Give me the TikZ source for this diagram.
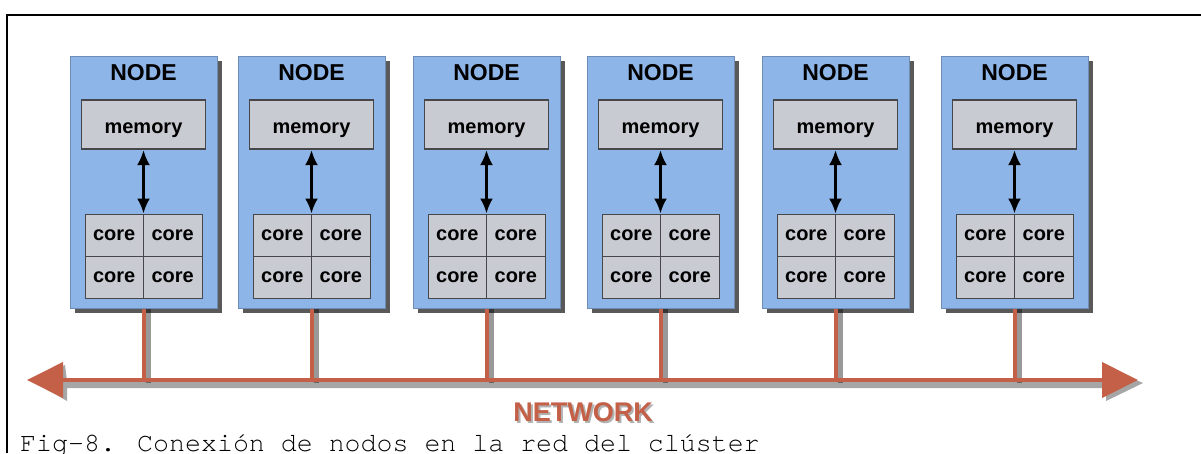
\documentclass[tikz,border=0pt]{standalone}
\usepackage{fontspec}
\setmainfont{Liberation Sans}
\newfontfamily\capfont{TeX Gyre Cursor}
\usetikzlibrary{arrows.meta,shadows,calc}
\definecolor{nodeblue}{RGB}{141,181,232}
\definecolor{nodeedge}{RGB}{110,140,180}
\definecolor{memgray}{RGB}{200,203,210}
\definecolor{memedge}{RGB}{70,70,75}
\definecolor{netred}{RGB}{196,96,72}
\tikzset{
  nodebox/.style={draw=nodeedge, line width=1pt, fill=nodeblue, minimum width=147pt, minimum height=252pt, inner sep=0pt,
    drop shadow={shadow xshift=5pt, shadow yshift=-5pt, opacity=0.65, fill=black}},
  titletext/.style={font=\fontsize{23}{26}\selectfont\bfseries, text=black, inner sep=0pt},
  membox/.style={draw=memedge, line width=1.2pt, fill=memgray, minimum width=124pt, minimum height=49pt, inner sep=0pt},
  memtext/.style={font=\fontsize{20}{24}\selectfont\bfseries, inner sep=0pt, anchor=base},
  corebox/.style={draw=memedge, line width=1pt, fill=memgray, minimum width=58.5pt, minimum height=42pt, inner sep=0pt,
    font=\fontsize{20}{24}\selectfont\bfseries},
  busarrow/.style={{Latex[length=15pt,width=13pt]}-{Latex[length=15pt,width=13pt]}, line width=2.6pt, black, shorten <=0.5pt, shorten >=0.5pt},
  netline/.style={line width=4pt, netred},
  netshadow/.style={line width=5pt, black, opacity=0.4},
}
\begin{document}
\begin{tikzpicture}[x=1pt, y=-1pt]
\useasboundingbox (0,0) rectangle (1201,453);
\fill[white] (0,0) rectangle (1201,453);
% frame
\draw[line width=2.5pt, black] (7,453) -- (7,15) -- (1201,15);

% network line coordinates
\coordinate (L) at (27,380);
\coordinate (R) at (1138,380);

\foreach \i/\x in {1/143.5, 2/311.5, 3/486.5, 4/660.5, 5/835.5, 6/1014.5} {
  % stem shadow
  \draw[netshadow] (\x+4.5,308) -- (\x+4.5,383);
}
% network shadow
\fill[black, opacity=0.35] (31,380) -- (65,365) -- (67,381) -- (1105,381) -- (1105,366) -- (1143,383) -- (1106,401) -- (1106,388) -- (67,388) -- (67,401) -- cycle;

\foreach \i/\x in {1/143.5, 2/311.5, 3/486.5, 4/660.5, 5/835.5, 6/1014.5} {
  \node[nodebox] (n\i) at (\x,182) {};
  \node[titletext] (t\i) at (\x,73) {NODE};
  \node[membox] (m\i) at (\x,124.5) {};
  \node[memtext] (mt\i) at (\x,133) {memory};
  \node[corebox] (ca\i) at (\x-29.25,235) {core};
  \node[corebox] (cb\i) at (\x+29.25,235) {core};
  \node[corebox] (cc\i) at (\x-29.25,277) {core};
  \node[corebox] (cd\i) at (\x+29.25,277) {core};
  \coordinate (g\i) at (\x,214);
  \draw[busarrow] (m\i.south) -- (g\i);
  \coordinate (s\i) at (\x,380);
  \draw[netline] (n\i.south) -- (s\i);
}
\draw[netline, {Triangle[length=36pt,width=35pt]}-{Triangle[length=36pt,width=35pt]}] (L) -- (R);

\node[font=\fontsize{27}{30}\selectfont\bfseries, text=black, opacity=0.3, inner sep=0pt] at (585,414) {NETWORK};
\node[font=\fontsize{27}{30}\selectfont\bfseries, text=netred, inner sep=0pt] (net) at (583,412) {NETWORK};

\node[anchor=base west, inner sep=0pt, font=\capfont\fontsize{26.6}{30}\selectfont] (cap) at (20,451) {Fig-8. Conexión de nodos en la red del clúster};
\end{tikzpicture}
\end{document}
